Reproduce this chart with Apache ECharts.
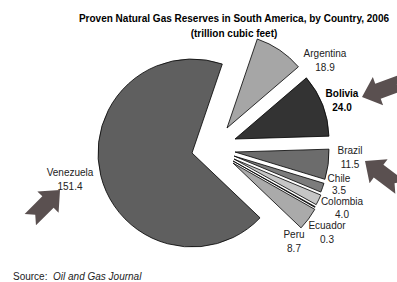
<!DOCTYPE html>
<html>
<head>
<meta charset="utf-8">
<script src="https://cdn.jsdelivr.net/npm/echarts@6/dist/echarts.min.js"></script>
<style>
    html, body { margin: 0; padding: 0; background: #fff; }
    #main { width: 397px; height: 282px; }
</style>
</head>
<body>
<div id="main"></div>
<script>
// data
var countries = ['Argentina', 'Bolivia', 'Brazil', 'Chile', 'Colombia', 'Ecuador', 'Peru', 'Venezuela'];
var reserves  = [18.9, 24.0, 11.5, 3.5, 4.0, 0.3, 8.7, 151.4];

// look + layout of each wedge (kept apart from the data)
var sliceColors = ['#a6a6a6', '#333333', '#6c6c6c', '#7c7c7c', '#c6c6c6', '#111111', '#aaaaaa', '#5f5f5f'];
var sliceCenters = [[227, 128], [235, 139], [235, 152], [234, 156], [234, 159], [233, 161], [233, 163], [192, 153]];
var labelPos = [[325, 60], [342, 100], [350, 157], [339, 184], [342, 207.5], [327, 232], [294, 241], [70, 179]];
var labelLH  = [14, 14, 14, 12, 13, 14, 14, 14];

var arrowColor = '#5a5050';

function arrow(tip, ang, len)
{
    // notched block arrow, tip at 'tip', pointing along angle 'ang' (deg)
    var a = ang * Math.PI / 180;
    var ux = Math.cos(a), uy = Math.sin(a);
    var px = -uy, py = ux;
    var hl = 17, hw = 15, sw = 8, nd = 7;
    var local = [[0, 0], [-hl, hw], [-hl, sw], [-len, sw], [-len + nd, 0], [-len, -sw], [-hl, -sw], [-hl, -hw]];
    return {
        type: 'polygon',
        shape: { points: local.map(p => [tip[0] + p[0] * ux + p[1] * px, tip[1] + p[0] * uy + p[1] * py]) },
        style: { fill: arrowColor },
        silent: true
    };
}

document.addEventListener("DOMContentLoaded", function()
{
    var chartDom = document.getElementById('main');
    var myChart = echarts.init(chartDom, null, { renderer: 'svg' });

    var series = countries.map(function(name, i) {
        return {
            type: 'pie',
            center: sliceCenters[i],
            radius: 94,
            startAngle: 71.2,
            clockwise: true,
            silent: true,
            animation: false,
            avoidLabelOverlap: false,
            labelLine: { show: false },
            label: {
                position: 'outside',
                color: '#222',
                fontFamily: 'Liberation Sans, Arial, sans-serif',
                fontSize: 10,
                lineHeight: labelLH[i],
                align: 'center',
                formatter: p => p.name + '\n' + p.value.toFixed(1)
            },
            labelLayout: function(params) {
                var pos = labelPos[params.dataIndex];
                return { x: pos[0], y: pos[1], align: 'center', verticalAlign: 'middle' };
            },
            data: countries.map(function(n, j) {
                var mine = (j === i);
                return {
                    name: n,
                    value: reserves[j],
                    itemStyle: mine
                        ? { color: sliceColors[j], borderColor: '#000', borderWidth: 0.8 }
                        : { color: 'rgba(0,0,0,0)', borderWidth: 0 },
                    label: { show: mine, fontWeight: n === 'Bolivia' ? 'bold' : 'normal', color: n === 'Bolivia' ? '#000' : '#222' }
                };
            })
        };
    });

    var option = {
        backgroundColor: '#fff',
        title: [
            {
                text: 'Proven Natural Gas Reserves in South America, by Country, 2006\n(trillion cubic feet)',
                left: 229,
                top: 6,
                textAlign: 'center',
                textStyle: {
                    fontFamily: 'Liberation Sans, Arial, sans-serif',
                    fontWeight: 'bold',
                    fontSize: 10,
                    lineHeight: 15,
                    color: '#000'
                }
            },
            {
                text: '{a|Source:  }{b|Oil and Gas Journal}',
                left: 8,
                top: 266,
                textStyle: {
                    fontWeight: 'normal',
                    rich: {
                        a: { fontFamily: 'Liberation Sans, Arial, sans-serif', fontSize: 10, fontWeight: 'normal', color: '#222' },
                        b: { fontFamily: 'Liberation Sans, Arial, sans-serif', fontSize: 10, fontWeight: 'normal', fontStyle: 'italic', color: '#222' }
                    }
                }
            }
        ],
        graphic: [
            arrow([60, 190], -45, 42),
            arrow([362, 97], 160, 44),
            arrow([365, 161], 217, 44)
        ],
        series: series
    };

    myChart.setOption(option);
    window.addEventListener('resize', myChart.resize);
});
</script>
</body>
</html>
